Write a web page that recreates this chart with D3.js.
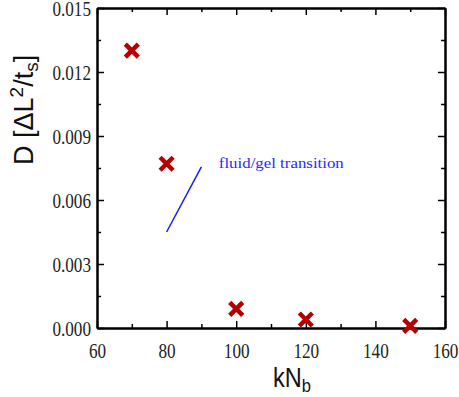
<!DOCTYPE html>
<html>
<head>
<meta charset="utf-8">
<script src="https://cdn.jsdelivr.net/npm/d3@7"></script>
<style>
  body { margin: 0; background: #fff; }
</style>
</head>
<body>
<svg id="drawing_region"></svg>
<script>
// values
const kNb = [70, 80, 100, 120, 150];
const diffusion = [0.0130, 0.0077, 0.0009, 0.0004, 0.0001];
const xMajor = [60, 80, 100, 120, 140, 160];
const xMinor = [70, 90, 110, 130, 150];
const yMajor = [0, 0.003, 0.006, 0.009, 0.012, 0.015];
const yMinor = [0.0015, 0.0045, 0.0075, 0.0105, 0.0135];
const noteLine = [[80, 0.0045], [90, 0.00755]];
const noteText = "fluid/gel transition";

const width = 459, height = 397;
const margin = {top: 8, right: 14, bottom: 69, left: 97};
const inner_width = width - margin.left - margin.right;
const inner_height = height - margin.top - margin.bottom;

const svg = d3.select('#drawing_region')
    .attr('width', width)
    .attr('height', height);

const chart = svg.append('g')
    .attr('transform', `translate(${margin.left}, ${margin.top})`);

const xscale = d3.scaleLinear().domain([60, 160]).range([0, inner_width]);
const yscale = d3.scaleLinear().domain([0, 0.015]).range([inner_height, 0]);

// squeeze serif tick labels to look condensed
function squeeze(sel, k) {
    sel.selectAll('text').each(function() {
        const w = this.getComputedTextLength();
        d3.select(this)
            .attr('textLength', w * k)
            .attr('lengthAdjust', 'spacingAndGlyphs');
    });
}

function styleAxis(g) {
    g.selectAll('path.domain').attr('stroke', '#000').attr('stroke-width', 2);
    g.selectAll('line').attr('stroke', '#000').attr('stroke-width', 1.5);
    g.selectAll('text')
        .attr('font-family', '"Liberation Serif", serif')
        .attr('font-size', 22)
        .attr('fill', '#222');
}

// bottom
const xaxis_group = chart.append('g')
    .attr('transform', `translate(0, ${inner_height})`)
    .call(d3.axisBottom(xscale).tickValues(xMajor).tickSize(-7).tickSizeOuter(0).tickPadding(14))
    .call(styleAxis);
squeeze(xaxis_group, 0.78);
chart.append('g')
    .attr('transform', `translate(0, ${inner_height})`)
    .call(d3.axisBottom(xscale).tickValues(xMinor).tickSize(-4).tickSizeOuter(0).tickFormat(''))
    .call(styleAxis);

// left
const yaxis_group = chart.append('g')
    .call(d3.axisLeft(yscale).tickValues(yMajor).tickSize(-7).tickSizeOuter(0).tickPadding(6)
        .tickFormat(d3.format('.3f')))
    .call(styleAxis);
squeeze(yaxis_group, 0.78);
chart.append('g')
    .call(d3.axisLeft(yscale).tickValues(yMinor).tickSize(-4).tickSizeOuter(0).tickFormat(''))
    .call(styleAxis);

// top
chart.append('g')
    .call(d3.axisTop(xscale).tickValues(xMajor).tickSize(-7).tickSizeOuter(0).tickFormat(''))
    .call(styleAxis);
chart.append('g')
    .call(d3.axisTop(xscale).tickValues(xMinor).tickSize(-4).tickSizeOuter(0).tickFormat(''))
    .call(styleAxis);

// right
chart.append('g')
    .attr('transform', `translate(${inner_width}, 0)`)
    .call(d3.axisRight(yscale).tickValues(yMajor).tickSize(-7).tickSizeOuter(0).tickFormat(''))
    .call(styleAxis);
chart.append('g')
    .attr('transform', `translate(${inner_width}, 0)`)
    .call(d3.axisRight(yscale).tickValues(yMinor).tickSize(-4).tickSizeOuter(0).tickFormat(''))
    .call(styleAxis);

// annotation line and label
const line = d3.line()
    .x(d => xscale(d[0]))
    .y(d => yscale(d[1]));

chart.append('path')
    .attr('d', line(noteLine))
    .attr('stroke', '#1a1aff')
    .attr('stroke-width', 1.5)
    .attr('fill', 'none');

const note = chart.append('text')
    .attr('x', xscale(95))
    .attr('y', yscale(0.0075))
    .attr('font-family', '"Liberation Serif", serif')
    .attr('font-size', 15)
    .attr('fill', '#2a2aff')
    .text(noteText);
note.attr('textLength', 125).attr('lengthAdjust', 'spacingAndGlyphs');

// data markers
const s = 6.5;
chart.selectAll('path.mark')
    .data(kNb)
    .enter()
    .append('path')
    .attr('class', 'mark')
    .attr('transform', (d, i) => `translate(${xscale(d)}, ${yscale(diffusion[i])})`)
    .attr('d', `M${-s},${-s}L${s},${s}M${-s},${s}L${s},${-s}`)
    .attr('stroke', '#b30000')
    .attr('stroke-width', 4.5)
    .attr('fill', 'none');

// axis titles
const xlabel = svg.append('text')
    .attr('x', 273)
    .attr('y', 387)
    .attr('font-family', '"Liberation Sans", Arial, sans-serif')
    .attr('font-size', 27)
    .attr('fill', '#111');
xlabel.append('tspan').text('kN');
xlabel.append('tspan').attr('font-size', 19).attr('dy', 5).text('b');
xlabel.attr('textLength', 38).attr('lengthAdjust', 'spacingAndGlyphs');

const ylabel = svg.append('text')
    .attr('transform', 'translate(33, 165) rotate(-90)')
    .attr('font-family', '"Liberation Sans", Arial, sans-serif')
    .attr('font-size', 27)
    .attr('fill', '#111');
ylabel.append('tspan').text('D [\u0394L');
ylabel.append('tspan').attr('font-size', 19).attr('dy', -10).text('2');
ylabel.append('tspan').attr('dy', 10).text('/t');
ylabel.append('tspan').attr('font-size', 19).attr('dy', 5).text('s');
ylabel.append('tspan').attr('dy', -5).text(']');
</script>
</body>
</html>
